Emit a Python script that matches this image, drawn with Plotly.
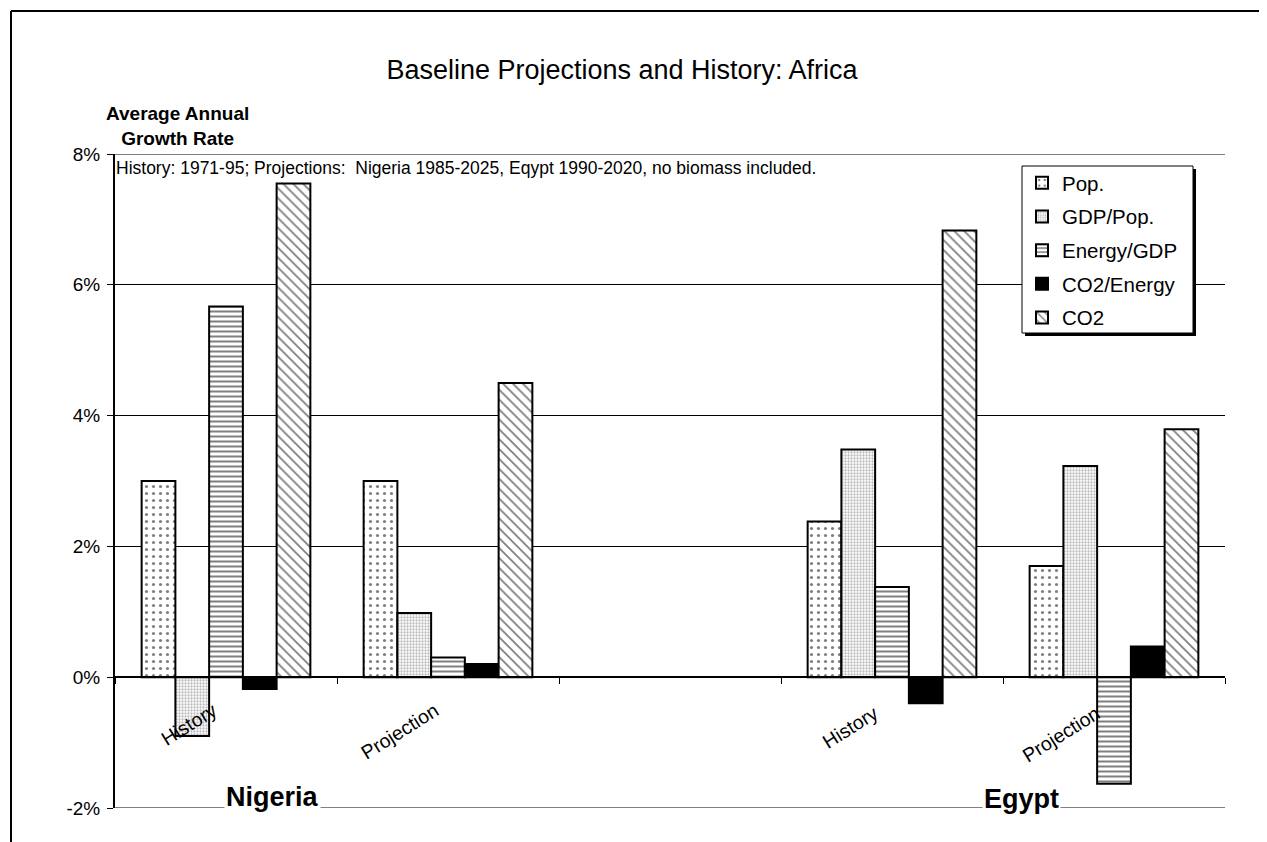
import plotly.graph_objects as go

# ---- data ----
categories = ["History", "Projection", " ", "History ", "Projection "]
bar_x = ["History", "Projection", "History ", "Projection "]
series = ["Pop.", "GDP/Pop.", "Energy/GDP", "CO2/Energy", "CO2"]
pop = [3.0, 3.0, 2.38, 1.70]
gdp_pop = [-0.90, 0.98, 3.48, 3.23]
energy_gdp = [5.67, 0.30, 1.38, -1.63]
co2_energy = [-0.18, 0.20, -0.40, 0.47]
co2 = [7.55, 4.50, 6.83, 3.79]
y_ticks = [-2, 0, 2, 4, 6, 8]
y_tick_text = ["-2%", "0%", "2%", "4%", "6%", "8%"]

values = [pop, gdp_pop, energy_gdp, co2_energy, co2]

styles = [
    dict(color="white", pattern=dict(shape=".", fgcolor="black", bgcolor="white", size=7, solidity=0.16)),
    dict(color="white", pattern=dict(shape=".", fgcolor="#777777", bgcolor="white", size=3, solidity=0.45)),
    dict(color="white", pattern=dict(shape="-", fgcolor="black", bgcolor="white", size=5, solidity=0.4)),
    dict(color="black"),
    dict(color="white", pattern=dict(shape="\\", fgcolor="black", bgcolor="white", size=7, solidity=0.25)),
]

FONT = "Liberation Sans, Arial, sans-serif"
OFF = 8                      # page offset of the figure inside the browser window
W, H = 1267 - OFF, 842 - OFF
# plot area in screen coordinates
X0, X1, Y0, Y1 = 115, 1225, 154, 808
ML, MR, MT, MB = X0 - OFF, W - (X1 - OFF), Y0 - OFF, H - (Y1 - OFF)
PW, PH = X1 - X0, Y1 - Y0


def px(x):
    return (x - X0) / PW


def py(y):
    return (Y1 - y) / PH


fig = go.Figure()
for name, vals, st in zip(series, values, styles):
    marker = dict(color=st["color"], line=dict(color="black", width=2))
    if "pattern" in st:
        marker["pattern"] = st["pattern"]
    fig.add_trace(go.Bar(name=name, x=bar_x, y=vals, marker=marker,
                         legendgroup=name))

fig.update_layout(
    width=W, height=H,
    margin=dict(l=ML, r=MR, t=MT, b=MB),
    paper_bgcolor="white", plot_bgcolor="white",
    barmode="group", bargap=0.24, bargroupgap=0,
    font=dict(family=FONT, color="black", size=18),
    title=dict(text="Baseline Projections and History: Africa",
               font=dict(size=27, family=FONT, color="black"),
               x=(622 - OFF) / W, xanchor="center", xref="container",
               y=1 - (70 - OFF) / H, yanchor="middle", yref="container"),
    showlegend=True,
    legend=dict(x=px(1022), y=py(163), xanchor="left", yanchor="top",
                bgcolor="rgba(0,0,0,0)", borderwidth=0,
                font=dict(size=20.5, family=FONT), tracegroupgap=4,
                itemwidth=30),
    xaxis=dict(type="category", categoryorder="array", categoryarray=categories,
               range=[-0.5, 4.5], anchor="free", position=0.2,
               showline=True, linecolor="black", linewidth=2,
               showgrid=False, zeroline=False,
               ticks="outside", tickson="boundaries", ticklen=6, tickcolor="black",
               tickangle=-32, tickfont=dict(size=19.5, family=FONT),
               ticklabelstandoff=14, ticklabelshift=-13),
    yaxis=dict(range=[-2, 8], tickvals=y_ticks, ticktext=y_tick_text,
               showline=True, linecolor="black", linewidth=2,
               showgrid=True, gridcolor="black", gridwidth=1,
               zeroline=False, ticks="outside", ticklen=6, tickcolor="black",
               tickfont=dict(size=19, family=FONT), ticklabelstandoff=3),
)

annotations = [
    dict(text="<b>Average Annual<br>Growth Rate</b>", x=px(177), y=py(126),
         xref="paper", yref="paper", showarrow=False, xanchor="center", yanchor="middle",
         font=dict(size=19, family=FONT)),
    dict(text="History: 1971-95; Projections:  Nigeria 1985-2025, Eqypt 1990-2020, no biomass included.",
         x=px(114), y=py(168), xref="paper", yref="paper", showarrow=False,
         xanchor="left", yanchor="middle", font=dict(size=17.5, family=FONT)),
    dict(text="<b>Nigeria</b>", x=px(272), y=py(797), xref="paper", yref="paper",
         showarrow=False, xanchor="center", yanchor="middle", bgcolor="white",
         font=dict(size=27, family=FONT)),
    dict(text="<b>Egypt</b>", x=px(1021), y=py(799), xref="paper", yref="paper",
         showarrow=False, xanchor="center", yanchor="middle", bgcolor="white",
         font=dict(size=27, family=FONT)),
]
fig.update_layout(annotations=annotations)

shapes = [
    # outer frame
    dict(type="line", xref="paper", yref="paper", x0=px(11), x1=px(1267), y0=py(11), y1=py(11),
         line=dict(color="black", width=2)),
    dict(type="line", xref="paper", yref="paper", x0=px(11), x1=px(11), y0=py(11), y1=py(842),
         line=dict(color="black", width=2)),
    # grid lines at the range ends
    dict(type="line", xref="paper", yref="y", x0=0, x1=1, y0=8, y1=8, layer="below",
         line=dict(color="black", width=1)),
    dict(type="line", xref="paper", yref="y", x0=0, x1=1, y0=-2, y1=-2, layer="below",
         line=dict(color="black", width=1)),
    # legend box with shadow
    dict(type="rect", xref="paper", yref="paper", x0=px(1025), x1=px(1196), y0=py(336), y1=py(169),
         fillcolor="black", line=dict(width=0), layer="above"),
    dict(type="rect", xref="paper", yref="paper", x0=px(1022), x1=px(1193), y0=py(333), y1=py(166),
         fillcolor="white", line=dict(color="black", width=1), layer="above"),
]
fig.update_layout(shapes=shapes)

fig.write_html("out.html")
